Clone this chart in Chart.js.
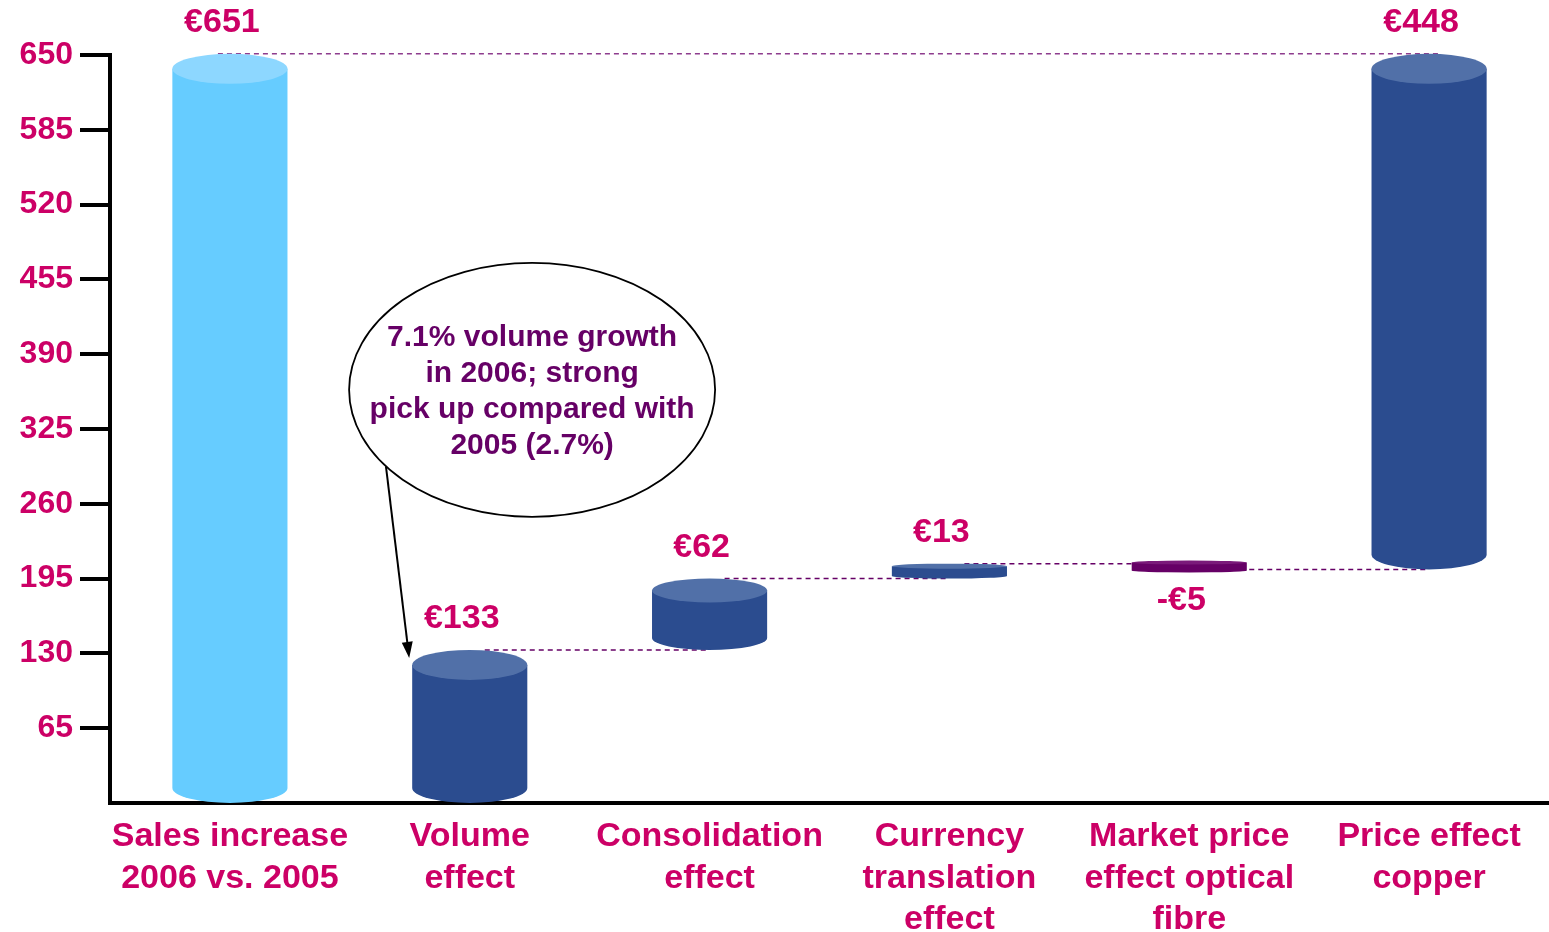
<!DOCTYPE html>
<html>
<head>
<meta charset="utf-8">
<script src="https://cdn.jsdelivr.net/npm/chart.js@4.4.1/dist/chart.umd.min.js"></script>
<style>
  html, body { margin: 0; padding: 0; background: #fff; }
  #wrap { width: 1549px; height: 932px; }
</style>
</head>
<body>
<div id="wrap"><canvas id="chart"></canvas></div>
<script>
// chart values
const categories = [
  ['Sales increase', '2006 vs. 2005'],
  ['Volume', 'effect'],
  ['Consolidation', 'effect'],
  ['Currency', 'translation', 'effect'],
  ['Market price', 'effect optical', 'fibre'],
  ['Price effect', 'copper']
];
const barStart = [0, 0, 133, 195, 208, 203];
const barEnd = [651, 133, 195, 208, 203, 651];
const valueLabels = ['€651', '€133', '€62', '€13', '-€5', '€448'];
const yTicks = [65, 130, 195, 260, 325, 390, 455, 520, 585, 650];
const calloutLines = ['7.1% volume growth', 'in 2006; strong', 'pick up compared with', '2005 (2.7%)'];
const calloutAt = { x: 1.26, y: 359 };

const MAGENTA = '#CC0066';
const PURPLE = '#660066';
const bodyColors = ['#66CCFF', '#2B4C8F', '#2B4C8F', '#2B4C8F', PURPLE, '#2B4C8F'];
const capColors = ['#8DD7FF', '#5170A8', '#5170A8', '#5170A8', '#7A1A7A', '#5170A8'];

Chart.defaults.font.family = "'Liberation Sans', Arial, sans-serif";

function drawCylinder(ctx, cx, w, top, bottom, body, cap) {
  let h = bottom - top;
  if (h < 12) {
    const mid = (top + bottom) / 2;
    top = mid - 6;
    bottom = mid + 6;
    h = 12;
  }
  const rx = w / 2;
  const ry = Math.min(15, h / 6);
  ctx.fillStyle = body;
  ctx.beginPath();
  ctx.moveTo(cx - rx, top + ry);
  ctx.lineTo(cx - rx, bottom - ry);
  ctx.ellipse(cx, bottom - ry, rx, ry, 0, Math.PI, 0, true);
  ctx.lineTo(cx + rx, top + ry);
  ctx.closePath();
  ctx.fill();
  ctx.fillStyle = cap;
  ctx.beginPath();
  ctx.ellipse(cx, top + ry, rx, ry, 0, 0, Math.PI * 2);
  ctx.fill();
  return ry;
}

const cylinderPlugin = {
  id: 'cylinders',
  beforeDatasetsDraw(chart) {
    const ctx = chart.ctx;
    const y = chart.scales.y;
    const bars = chart.getDatasetMeta(0).data;
    ctx.save();
    ctx.strokeStyle = '#8E3C8E';
    ctx.lineWidth = 1.5;
    ctx.setLineDash([5, 4]);
    // total line across the top
    ctx.beginPath();
    ctx.moveTo(bars[0].x - 12, y.getPixelForValue(barEnd[0]));
    ctx.lineTo(bars[5].x + bars[5].width * 0.1, y.getPixelForValue(barEnd[0]));
    ctx.stroke();
    // step connectors
    ctx.strokeStyle = PURPLE;
    for (let i = 1; i < 5; i++) {
      const py = y.getPixelForValue(barEnd[i]);
      ctx.beginPath();
      ctx.moveTo(bars[i].x + 15, py);
      ctx.lineTo(bars[i + 1].x, py);
      ctx.stroke();
    }
    ctx.restore();
  },
  afterDatasetsDraw(chart) {
    const ctx = chart.ctx;
    const bars = chart.getDatasetMeta(0).data;
    const tops = [];
    ctx.save();
    bars.forEach((bar, i) => {
      const top = Math.min(bar.y, bar.base);
      const bottom = Math.max(bar.y, bar.base);
      const ry = drawCylinder(ctx, bar.x, bar.width, top, bottom, bodyColors[i], capColors[i]);
      tops.push({ top, ry });
      ctx.fillStyle = MAGENTA;
      ctx.font = "bold 34px 'Liberation Sans', Arial, sans-serif";
      ctx.textAlign = 'center';
      ctx.textBaseline = 'middle';
      const neg = barEnd[i] < barStart[i];
      const ly = neg ? bottom + 31 : top - 31;
      ctx.fillText(valueLabels[i], bar.x - 8, ly);
    });

    // callout bubble
    const cx = chart.scales.x.getPixelForValue(calloutAt.x);
    const cy = chart.scales.y.getPixelForValue(calloutAt.y);
    const rx = 183, ry = 127;
    ctx.fillStyle = '#fff';
    ctx.strokeStyle = '#000';
    ctx.lineWidth = 1.8;
    ctx.beginPath();
    ctx.ellipse(cx, cy, rx, ry, 0, 0, Math.PI * 2);
    ctx.fill();
    ctx.stroke();
    ctx.fillStyle = PURPLE;
    ctx.font = "bold 30px 'Liberation Sans', Arial, sans-serif";
    ctx.textAlign = 'center';
    ctx.textBaseline = 'middle';
    calloutLines.forEach((t, k) => {
      ctx.fillText(t, cx, cy - 52 + k * 36);
    });

    // arrow to the volume bar
    const t = 143 * Math.PI / 180;
    const sx = cx + rx * Math.cos(t), sy = cy + ry * Math.sin(t);
    const ex = bars[1].x - bars[1].width / 2 - 3, ey = tops[1].top + 8;
    const ang = Math.atan2(ey - sy, ex - sx);
    const headLen = 17;
    ctx.strokeStyle = '#000';
    ctx.lineWidth = 2;
    ctx.beginPath();
    ctx.moveTo(sx, sy);
    ctx.lineTo(ex - headLen * 0.8 * Math.cos(ang), ey - headLen * 0.8 * Math.sin(ang));
    ctx.stroke();
    ctx.fillStyle = '#000';
    ctx.beginPath();
    ctx.moveTo(ex, ey);
    ctx.lineTo(ex - headLen * Math.cos(ang - 0.33), ey - headLen * Math.sin(ang - 0.33));
    ctx.lineTo(ex - headLen * Math.cos(ang + 0.33), ey - headLen * Math.sin(ang + 0.33));
    ctx.closePath();
    ctx.fill();
    ctx.restore();
  }
};

new Chart(document.getElementById('chart'), {
  type: 'bar',
  data: {
    labels: categories,
    datasets: [{
      data: barStart.map((s, i) => [s, barEnd[i]]),
      backgroundColor: 'rgba(0,0,0,0)',
      borderWidth: 0,
      barPercentage: 1,
      categoryPercentage: 0.48
    }]
  },
  options: {
    responsive: true,
    maintainAspectRatio: false,
    animation: false,
    layout: { padding: { top: 55, right: 0, bottom: 0, left: 0 } },
    plugins: {
      legend: { display: false },
      tooltip: { enabled: false }
    },
    scales: {
      x: {
        grid: { drawOnChartArea: false, drawTicks: false },
        border: { color: '#000', width: 4 },
        ticks: {
          color: MAGENTA,
          font: { size: 34, weight: 'bold', lineHeight: 1.22 },
          padding: 13,
          maxRotation: 0,
          autoSkip: false
        },
        afterFit(scale) { scale.height = 129; }
      },
      y: {
        min: 0,
        max: 650,
        afterBuildTicks(scale) { scale.ticks = yTicks.map(v => ({ value: v })); },
        grid: { drawOnChartArea: false, tickLength: 30, color: '#000', lineWidth: 4 },
        border: { color: '#000', width: 4 },
        ticks: {
          color: MAGENTA,
          font: { size: 32, weight: 'bold' },
          padding: 7
        },
        afterFit(scale) { scale.width = 110; }
      }
    }
  },
  plugins: [cylinderPlugin]
});
</script>
</body>
</html>
